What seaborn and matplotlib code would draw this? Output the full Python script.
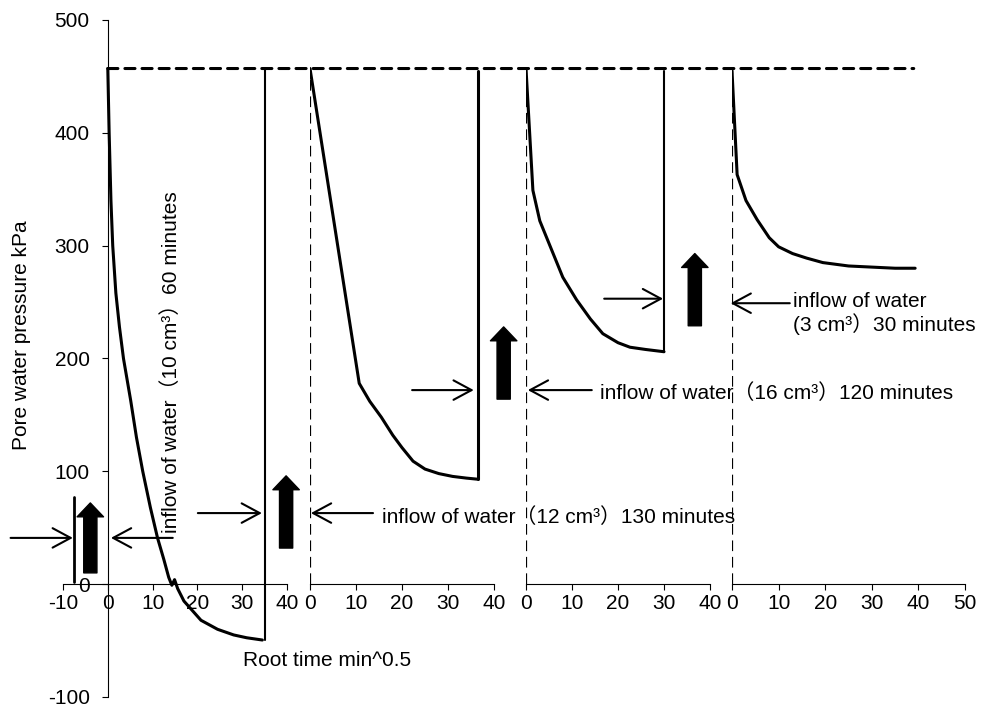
import numpy as np
import pandas as pd
import seaborn as sns
import matplotlib.pyplot as plt
from matplotlib.patches import ConnectionPatch

# initial pore water pressure (kPa)
p_start = 457

# stage 1: (10 cm3) 60 minutes
t1 = [0, 0.3, 0.7, 1.1, 1.8, 2.6, 3.5, 5.1, 6.4, 7.8, 9.5, 11.1, 12.5, 13.6, 14.3, 14.9, 15.6, 17, 20.8, 24.5, 28.1, 31, 34.5]
p1 = [457, 400, 340, 300, 258, 228, 200, 163, 130, 100, 68, 41, 22, 6, -1, 4, -4, -15, -32, -40, -45, -47.5, -49.5]
# stage 2: (12 cm3) 130 minutes
t2 = [0, 10.7, 13, 15.5, 18, 20, 22.4, 25, 28, 31, 34, 36.5]
p2 = [457, 178, 162, 148, 132, 121, 109, 102, 98, 95.5, 94, 93]
# stage 3: (16 cm3) 120 minutes
t3 = [0, 1.5, 3, 5.9, 8, 11, 14, 16.7, 20, 22.6, 26, 30]
p3 = [457, 349, 322, 293, 272, 252, 235, 222, 214, 210, 208, 206]
# stage 4: (3 cm3) 30 minutes
t4 = [0, 1.1, 3, 5.4, 8, 10, 13, 16, 19.5, 25, 30, 35, 39.3]
p4 = [455, 363, 340, 323, 307, 299, 293, 289, 285, 282, 281, 280, 280]

labels = ["inflow of water（10 cm³）60 minutes",
          "inflow of water（12 cm³）130 minutes",
          "inflow of water（16 cm³）120 minutes",
          "inflow of water\n(3 cm³）30 minutes"]

sns.set_style("white")
plt.rcParams['font.family'] = ['Liberation Sans', 'Noto Sans CJK JP', 'DejaVu Sans']
plt.rcParams['text.color'] = 'black'
plt.rcParams['xtick.color'] = 'black'
plt.rcParams['ytick.color'] = 'black'
plt.rcParams['axes.unicode_minus'] = False
fs = 15

fig = plt.figure(figsize=(9.82, 7.11), dpi=100)
bot, h = 14 / 711, 677 / 711
ax1 = fig.add_axes([63 / 982, bot, 224 / 982, h])
ax2 = fig.add_axes([310 / 982, bot, 184 / 982, h])
ax3 = fig.add_axes([526 / 982, bot, 184 / 982, h])
ax4 = fig.add_axes([732 / 982, bot, 233 / 982, h])
axes = [ax1, ax2, ax3, ax4]
xlims = [(-10, 40), (0, 40), (0, 40), (0, 50)]

for ax, xl in zip(axes, xlims):
    ax.patch.set_visible(False)
    ax.set_xlim(xl)
    ax.set_ylim(-100, 500)
    ax.set_xticks(np.arange(xl[0], xl[1] + 1, 10))
    for s in ['top', 'right', 'left']:
        ax.spines[s].set_visible(False)
    ax.spines['bottom'].set_position(('data', 0))
    ax.spines['bottom'].set_color('black')
    ax.spines['bottom'].set_linewidth(0.8)
    ax.tick_params(axis='x', bottom=True, direction='out', length=4, width=0.8,
                   labelsize=fs, pad=3)
    ax.set_yticks([])

ax1.spines['left'].set_visible(True)
ax1.spines['left'].set_position(('data', 0))
ax1.spines['left'].set_color('black')
ax1.spines['left'].set_linewidth(0.8)
ax1.set_yticks(np.arange(-100, 501, 100))
ax1.tick_params(axis='y', left=True, direction='out', length=4, width=0.8,
                labelsize=fs, pad=9)

# curves
for ax, t, p in zip(axes, [t1, t2, t3, t4], [p1, p2, p3, p4]):
    df = pd.DataFrame({'t': t, 'p': p})
    sns.lineplot(data=df, x='t', y='p', ax=ax, color='black', lw=2.2,
                 estimator=None, sort=False)
    ax.set_xlabel('')
    ax.set_ylabel('')

# vertical jumps at end of each stage
ax1.plot([35, 35], [p1[-1], p_start], color='black', lw=1.5)
ax2.plot([t2[-1], t2[-1]], [p2[-1], 455], color='black', lw=2.2)
ax3.plot([t3[-1], t3[-1]], [p3[-1], 455], color='black', lw=1.5)
ax1.plot([-7.6, -7.6], [2, 77], color='black', lw=2, clip_on=False)

# dashed verticals at start of stages 2-4
for ax in [ax2, ax3, ax4]:
    ax.plot([0, 0], [0, p_start], color='black', lw=1.6, linestyle=(0, (4.8, 2.6)))

# dashed initial pressure line
con = ConnectionPatch(xyA=(0, p_start), coordsA=ax1.transData,
                      xyB=(39, p_start), coordsB=ax4.transData,
                      arrowstyle='-', color='black', lw=2.2,
                      linestyle=(0, (3.3, 2.3)))
fig.add_artist(con)


def line_arrow(ax, x0, x1, y):
    ax.annotate("", xy=(x1, y), xytext=(x0, y), annotation_clip=False,
                arrowprops=dict(arrowstyle="->,head_length=13,head_width=7",
                                mutation_scale=1, lw=1.5, color='black',
                                shrinkA=0, shrinkB=0))


def block_arrow(ax, x, y0, y1):
    ax.annotate("", xy=(x, y1), xytext=(x, y0), annotation_clip=False,
                arrowprops=dict(arrowstyle="simple,head_length=10,head_width=19,tail_width=9.5",
                                mutation_scale=1, color='black',
                                shrinkA=0, shrinkB=0))


# stage 1 annotation
line_arrow(ax1, -21.7, -7.8, 41)
block_arrow(ax1, -3.9, 10, 72)
line_arrow(ax1, 14.5, 0.7, 41)
ax1.text(14.1, 45, labels[0], rotation=90, ha='center', va='bottom', fontsize=fs)

# stage 2 annotation
line_arrow(ax1, 20.1, 34.4, 63)
block_arrow(ax1, 39.8, 32, 96)
line_arrow(ax2, 13.7, 0.2, 63)
ax2.text(15.7, 59.4, labels[1], ha='left', va='center', fontsize=fs)

# stage 3 annotation
line_arrow(ax2, 22.2, 35.6, 172)
block_arrow(ax2, 42.1, 164, 228)
line_arrow(ax3, 14.3, 0.4, 172)
ax3.text(16.1, 169, labels[2], ha='left', va='center', fontsize=fs)

# stage 4 annotation
line_arrow(ax3, 17, 29.8, 253)
block_arrow(ax3, 36.7, 229, 293)
line_arrow(ax4, 12.4, -0.3, 249)
ax4.text(13.1, 240, labels[3], ha='left', va='center', fontsize=fs, linespacing=1.15)

fig.text(327 / 982, 1 - 660 / 711, "Root time min^0.5", ha='center', va='center', fontsize=fs)
fig.text(22 / 982, 1 - 335 / 711, "Pore water pressure kPa", ha='center', va='center',
         rotation=90, fontsize=fs)

fig.savefig("out.png", dpi=100)
